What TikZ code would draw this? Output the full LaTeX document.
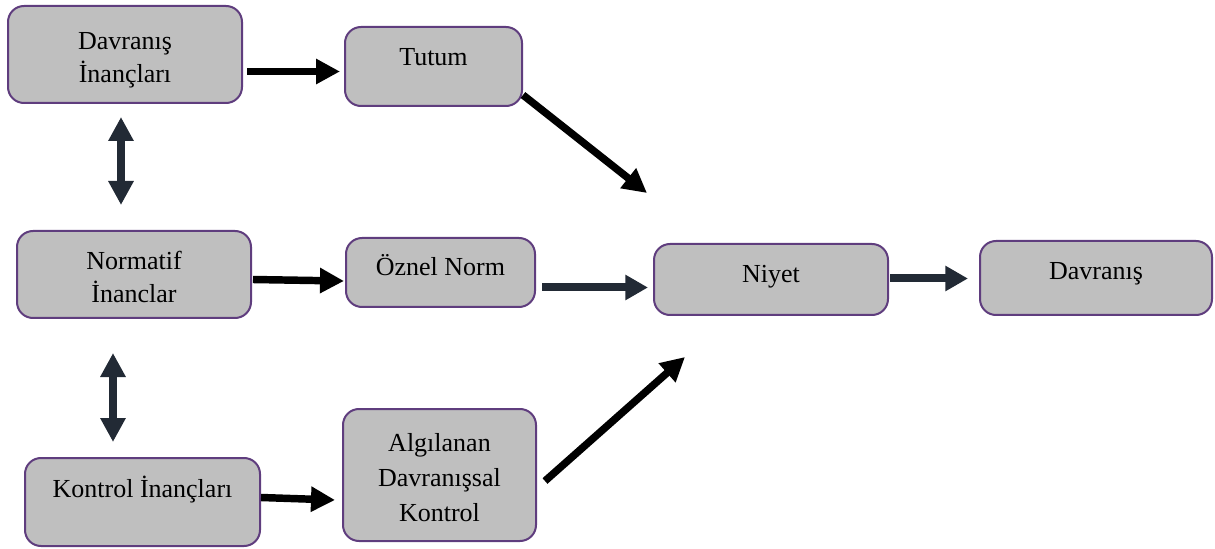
\documentclass[tikz,border=0pt]{standalone}
\usepackage{fontspec}
\setmainfont{Liberation Serif}
\usetikzlibrary{arrows.meta,calc}
\definecolor{boxfill}{HTML}{BFBFBF}
\definecolor{boxline}{HTML}{5F3D7E}
\definecolor{darkarrow}{HTML}{222A35}
\begin{document}
\begin{tikzpicture}[x=0.75pt,y=-0.75pt,
  box/.style={draw=boxline, fill=boxfill, line width=1.5pt, rounded corners=12pt,
    inner sep=0pt},
  lbl/.style={inner sep=0pt, anchor=base, align=center,
    font=\fontsize{19.5pt}{24.75pt}\selectfont},
  blackarrow/.style={draw=black, line width=5.6pt,
    -{Triangle[length=18pt,width=18pt]}},
  darkarr/.style={draw=darkarrow, line width=6pt,
    -{Triangle[length=17pt,width=18pt]}},
  darkboth/.style={draw=darkarrow, line width=6pt,
    {Triangle[length=18pt,width=18pt]}-{Triangle[length=18pt,width=18pt]}}]
\useasboundingbox (0,0) rectangle (1215,549);

% boxes
\node[box, minimum width=0.75*234pt, minimum height=0.75*97pt] (di) at (125,54.5) {};
\node[box, minimum width=0.75*177pt, minimum height=0.75*79pt] (tu) at (433.5,66.5) {};
\node[box, minimum width=0.75*234pt, minimum height=0.75*87pt] (ni) at (134,274.5) {};
\node[box, minimum width=0.75*189pt, minimum height=0.75*69pt] (on) at (440.5,272.5) {};
\node[box, minimum width=0.75*234pt, minimum height=0.75*71pt] (ny) at (771,279.5) {};
\node[box, minimum width=0.75*232pt, minimum height=0.75*74pt] (dv) at (1096,278) {};
\node[box, minimum width=0.75*235pt, minimum height=0.75*88pt] (ki) at (142.5,502) {};
\node[box, minimum width=0.75*193pt, minimum height=0.75*132pt] (ad) at (439.5,475) {};

% labels (base anchor sits on the last line)
\node[lbl] (dit) at (125,83) {Davranış\\İnançları};
\node[lbl] (tut) at (433.5,66) {Tutum};
\node[lbl] (nit) at (134,303) {Normatif\\İnanclar};
\node[lbl] (ont) at (440.5,276) {Öznel Norm};
\node[lbl] (nyt) at (771,282) {Niyet};
\node[lbl] (dvt) at (1096,280) {Davranış};
\node[lbl] (kit) at (142.5,497) {Kontrol İnançları};
\node[lbl, font=\fontsize{19.5pt}{25.9pt}\selectfont] (adt) at (439.5,521) {Algılanan\\Davranışsal\\Kontrol};

% connectors
\draw[blackarrow] ($(di.east)+(4,17)$) -- ($(tu.west)+(-4,5)$);
\draw[blackarrow] ($(tu.south east)+(0,-12)$) -- ($(ny.north west)+(-6,-50)$);
\draw[blackarrow] ($(ni.east)+(1,5)$) -- ($(on.west)+(-1,8.5)$);
\draw[darkarr] ($(on.east)+(6,15)$) -- ($(ny.west)+(-5,8)$);
\draw[darkarr] ($(ny.east)+(1,-1)$) -- ($(dv.west)+(-11,0.5)$);
\draw[blackarrow] ($(ad.east)+(8,6)$) -- ($(ny.south west)+(32,41)$);
\draw[blackarrow] ($(ki.east)+(0,-4.5)$) -- ($(ad.west)+(-7,25)$);
\draw[darkboth] ($(di.south)+(-4,13)$) -- ($(ni.north)+(-13,-25)$);
\draw[darkboth] ($(ni.south)+(-21,34)$) -- ($(ki.north)+(-29.5,-15)$);
\end{tikzpicture}
\end{document}
